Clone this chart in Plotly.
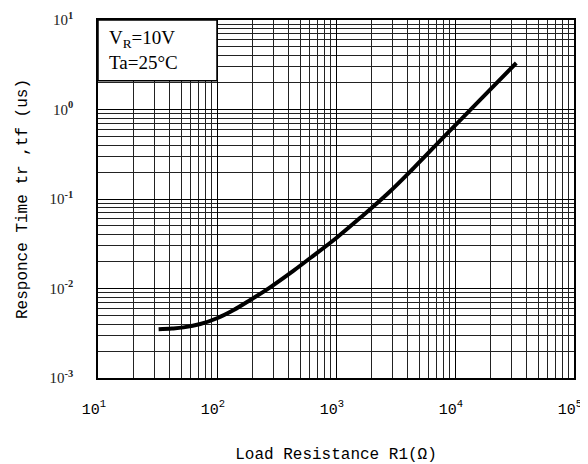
import plotly.graph_objects as go

# Curve data (Load resistance in ohm, response time in us)
resistance = [32.3, 41.7, 52.4, 72.4, 100, 138, 190.5, 271.6, 440.6, 608, 1019, 1600, 2767, 4487,
              8570, 16330, 32730]
resp_time = [0.00350, 0.00357, 0.00368, 0.00401, 0.00465, 0.00575, 0.00745, 0.01005, 0.01585, 0.0219,
             0.0372, 0.0617, 0.1175, 0.2213, 0.537, 1.288, 3.31]

x_tickvals = [10, 100, 1000, 10000, 100000]
x_exps = ["1", "2", "3", "4", "5"]
y_tickvals = [0.001, 0.01, 0.1, 1, 10]
y_exps = ["-3", "-2", "-1", "0", "1"]

x_ticktext = ["10<sup>%s</sup>" % e for e in x_exps]
y_ticktext = ["10<sup><b>%s</b></sup>" % e for e in y_exps]

fig = go.Figure()
fig.add_trace(go.Scatter(
    x=resistance, y=resp_time, mode="lines",
    line=dict(color="black", width=4, shape="spline", smoothing=1),
    showlegend=False, hoverinfo="skip",
))

grid_common = dict(
    type="log", showline=True, linecolor="black", linewidth=1.5, mirror=True,
    showgrid=True, gridcolor="black", gridwidth=1, ticks="", zeroline=False,
    automargin=False,
)

fig.update_xaxes(
    **grid_common,
    range=[1, 5],
    tickvals=x_tickvals, ticktext=x_ticktext,
    tickfont=dict(family="Liberation Mono", size=15, color="black"),
    ticklabelstandoff=16,
    ticklabelshift=-4,
    ticklabeloverflow="allow",
    minor=dict(showgrid=True, gridcolor="#222222", gridwidth=1, dtick="D1", ticks=""),
    title=dict(text="Load Resistance R1(Ω)", font=dict(family="Liberation Mono", size=16, color="black"),
               standoff=32),
)
fig.update_yaxes(
    **grid_common,
    range=[-3, 1],
    tickvals=y_tickvals, ticktext=y_ticktext,
    tickfont=dict(family="Liberation Serif", size=15, color="#222222"),
    ticklabelstandoff=20,
    minor=dict(showgrid=True, gridcolor="#222222", gridwidth=1, dtick="D1", ticks=""),
    title=dict(text="Responce Time tr ,tf (us)", font=dict(family="Liberation Mono", size=16, color="black"),
               standoff=18),
)

# White condition box in the top-left corner
fig.add_shape(type="rect", xref="paper", yref="paper", x0=0, x1=0.25, y0=0.83, y1=1,
              fillcolor="white", line=dict(color="black", width=1.5), layer="above")
fig.add_annotation(xref="paper", yref="paper", x=0.018, y=0.915, xanchor="left", yanchor="middle",
                   text="V<sub>R</sub>=10V<br>Ta=25°C", showarrow=False, align="left",
                   font=dict(family="Liberation Serif", size=19, color="black"))

fig.update_layout(
    width=580, height=456,
    margin=dict(l=90, r=14, t=12, b=86),
    paper_bgcolor="white", plot_bgcolor="white",
)

fig.write_html("out.html")
